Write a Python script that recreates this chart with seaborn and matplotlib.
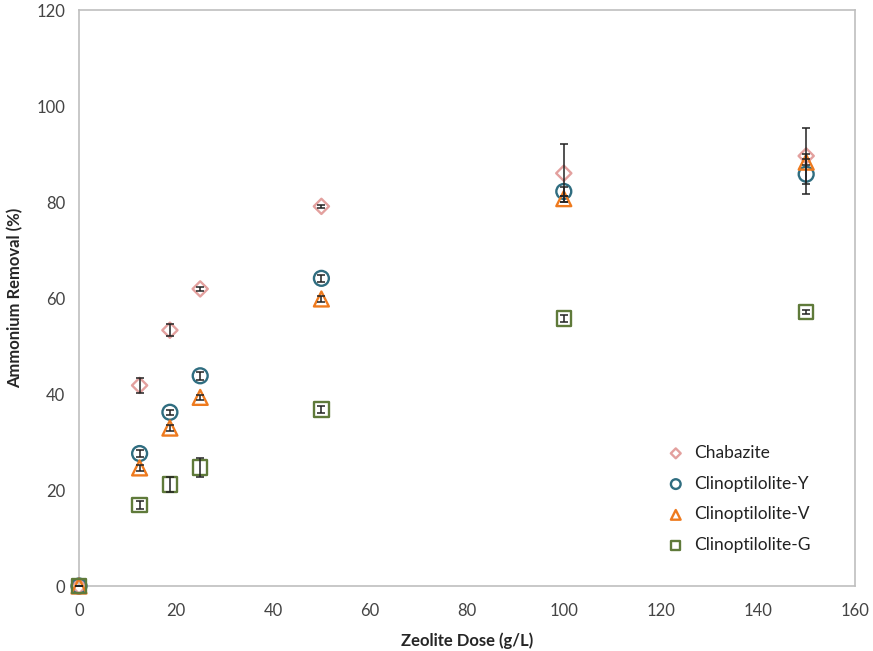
import numpy as np
import pandas as pd
import matplotlib
matplotlib.use("Agg")
import matplotlib.pyplot as plt
import seaborn as sns

# Zeolite dose (g/L)
dose = [0, 12.5, 18.75, 25, 50, 100, 150]

# Ammonium removal (%) and error for each zeolite
chabazite = [0, 41.8, 53.3, 61.9, 79.1, 86.0, 89.6]
chabazite_err = [0, 1.5, 1.2, 0.5, 0.3, 6.0, 5.8]
clino_y = [0, 27.6, 36.2, 43.8, 64.1, 82.2, 85.8]
clino_y_err = [0, 0.8, 0.5, 0.8, 0.8, 1.0, 4.2]
clino_v = [0, 24.6, 32.9, 39.3, 59.8, 80.7, 88.3]
clino_v_err = [0, 0.6, 0.6, 0.6, 0.6, 0.6, 0.6]
clino_g = [0, 16.9, 21.1, 24.7, 36.8, 55.7, 57.1]
clino_g_err = [0, 0.8, 1.6, 2.0, 0.8, 0.7, 0.4]

series_names = ["Chabazite", "Clinoptilolite-Y", "Clinoptilolite-V", "Clinoptilolite-G"]
series_vals = [chabazite, clino_y, clino_v, clino_g]
series_errs = [chabazite_err, clino_y_err, clino_v_err, clino_g_err]

colors = {"Chabazite": "#E3A09E", "Clinoptilolite-Y": "#2F6D80",
          "Clinoptilolite-V": "#EE7A1E", "Clinoptilolite-G": "#5F7A3A"}
markers = {"Chabazite": "D", "Clinoptilolite-Y": "o",
           "Clinoptilolite-V": "^", "Clinoptilolite-G": "s"}
sizes = {"Chabazite": 60, "Clinoptilolite-Y": 115,
         "Clinoptilolite-V": 115, "Clinoptilolite-G": 110}

df = pd.concat([
    pd.DataFrame({"dose": dose, "removal": v, "err": e, "zeolite": n})
    for n, v, e in zip(series_names, series_vals, series_errs)
], ignore_index=True)

sns.set_style("white")
plt.rcParams["font.family"] = ["Lato", "DejaVu Sans"]

fig = plt.figure(figsize=(8.73, 6.51), dpi=100)
ax = fig.add_axes([0.0905, 0.0998, 0.8885, 0.8848])

for name in series_names:
    sub = df[df["zeolite"] == name]
    sns.scatterplot(data=sub, x="dose", y="removal", ax=ax,
                    marker=markers[name], s=sizes[name],
                    facecolor="none", edgecolor=colors[name], linewidth=1.7,
                    label=name, clip_on=False, zorder=3)
    ax.errorbar(sub["dose"], sub["removal"], yerr=sub["err"], fmt="none",
                ecolor="#222222", elinewidth=1.1, capsize=2.8, capthick=1.1,
                zorder=4, clip_on=False)

ax.set_xlim(0, 160)
ax.set_ylim(0, 120)
ax.set_xticks(np.arange(0, 161, 20))
ax.set_yticks(np.arange(0, 121, 20))
ax.tick_params(axis="x", length=0, labelsize=12, colors="#444444", pad=12)
ax.tick_params(axis="y", length=0, labelsize=12, colors="#444444", pad=10)

for sp in ax.spines.values():
    sp.set_color("#BFBFBF")
    sp.set_linewidth(1.2)

ax.set_xlabel("Zeolite Dose (g/L)", fontsize=12, fontweight="bold", labelpad=10)
ax.set_ylabel("Ammonium Removal (%)", fontsize=12, fontweight="bold", labelpad=9)

leg = ax.legend(loc="lower right", bbox_to_anchor=(0.952, 0.045), frameon=False,
                fontsize=12.5, handletextpad=0.05, labelspacing=0.85,
                markerscale=0.65, borderaxespad=0)
for t in leg.get_texts():
    t.set_color("#222222")

fig.savefig("out.png", dpi=100)
